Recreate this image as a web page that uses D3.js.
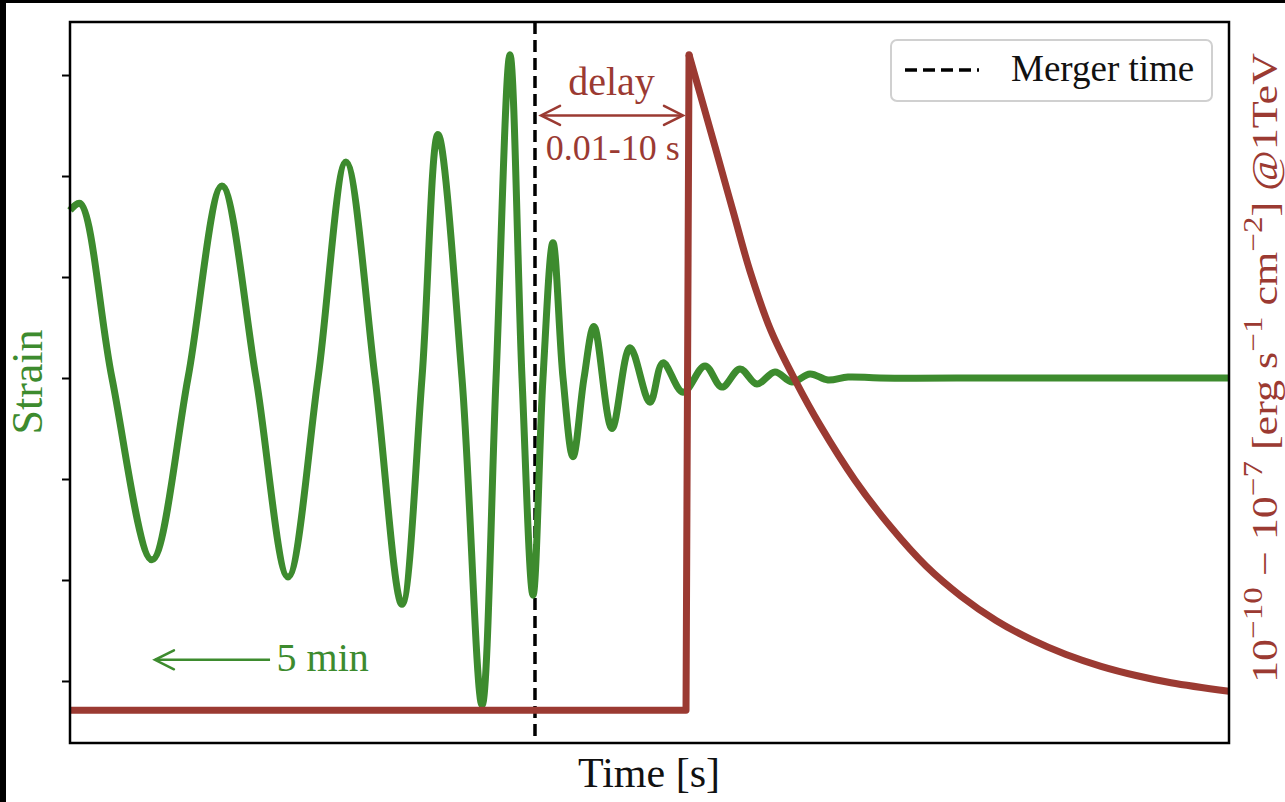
<!DOCTYPE html>
<html>
<head>
<meta charset="utf-8">
<script src="https://cdn.jsdelivr.net/npm/d3@7"></script>
<style>
  body { margin: 0; background: #fff; }
  text { font-family: "Liberation Serif", "DejaVu Serif", serif; }
</style>
</head>
<body>
<div id="chart"></div>
<script>
// gravitational wave strain (arbitrary units), time in s around merger
var strainTime = [-40.12, -39.26, -36.50, -33.05, -29.94, -27.01, -24.07, -21.31, -18.72, -16.31,
  -13.80, -11.48, -9.75, -8.37, -6.30, -4.57, -3.36, -2.16, -1.12, -0.17,
  0.69, 1.55, 2.42, 3.28, 4.23, 5.09, 6.64, 8.20, 9.92, 11.04,
  12.77, 14.67, 16.13, 17.69, 19.15, 20.71, 22.17, 23.73, 25.28, 27.01,
  29.77, 40.00, 50.00, 59.88];
var strainValue = [1.66, 1.73, 0, -1.80, 0, 1.90, 0, -1.97, 0, 2.14,
  0, -2.24, 0, 2.41, 0, -3.24, 0, 3.20, 0, -2.15,
  0, 1.34, 0, -0.78, 0, 0.51, -0.50, 0.30, -0.24, 0.15,
  -0.14, 0.12, -0.09, 0.09, -0.06, 0.06, -0.04, 0.04, -0.02, 0.01,
  0, 0, 0, 0];

// gamma-ray flux (normalised to peak)
var fluxTime = [-40.12, 13.03, 13.29, 15.53, 17.08, 18.55, 20.36, 22.52, 24.59, 27.61,
  30.72, 33.74, 36.76, 39.78, 42.80, 45.82, 48.84, 51.86, 54.87, 59.88];
var fluxValue = [0, 0, 1, 0.86, 0.762, 0.670, 0.579, 0.501, 0.435, 0.351,
  0.279, 0.220, 0.174, 0.137, 0.108, 0.085, 0.067, 0.053, 0.042, 0.029];

var strainTicks = [-3, -2, -1, 0, 1, 2, 3];
var mergerTime = 0;

var green = "#3d8b2e";
var red = "#9b3a32";

// svg vars
var svgWidth = 1285;
var svgHeight = 802;
var margin = { top: 22, right: 56, bottom: 59, left: 70 };
var width = svgWidth - margin.left - margin.right;
var height = svgHeight - margin.top - margin.bottom;

var svg = d3.select("#chart").append("svg")
  .attr("width", svgWidth)
  .attr("height", svgHeight);

// black frame of the screenshot
svg.append("rect").attr("x", 0).attr("y", 0).attr("width", svgWidth).attr("height", 3).attr("fill", "#000");
svg.append("rect").attr("x", 0).attr("y", 0).attr("width", 6).attr("height", svgHeight).attr("fill", "#000");

var chartGroup = svg.append("g")
  .attr("transform", `translate(${margin.left}, ${margin.top})`);

var xScale = d3.scaleLinear().domain([-40.12, 59.88]).range([0, width]);
var yScale = d3.scaleLinear().domain([-3.614, 3.525]).range([height, 0]);
var yFlux = d3.scaleLinear().domain([-0.05, 1.05]).range([height, 0]);

// left axis, ticks only
var leftAxis = d3.axisLeft(yScale)
  .tickValues(strainTicks)
  .tickFormat("")
  .tickSize(8)
  .tickSizeOuter(0);
var la = chartGroup.append("g").call(leftAxis);
la.select(".domain").remove();
la.selectAll(".tick line").attr("stroke", "#000").attr("stroke-width", 2);

// merger line
chartGroup.append("line")
  .attr("x1", xScale(mergerTime)).attr("x2", xScale(mergerTime))
  .attr("y1", 0).attr("y2", height)
  .attr("stroke", "#000")
  .attr("stroke-width", 3.5)
  .attr("stroke-dasharray", "12,6");

// strain line
var strainData = strainTime.map((t, i) => ({ t: t, v: strainValue[i] }));
var strainLine = d3.line()
  .x(d => xScale(d.t))
  .y(d => yScale(d.v))
  .curve(d3.curveCatmullRom.alpha(0.5));
chartGroup.append("path")
  .datum(strainData)
  .attr("d", strainLine)
  .attr("fill", "none")
  .attr("stroke", green)
  .attr("stroke-width", 7)
  .attr("stroke-linejoin", "round");

// flux line: step up drawn straight, decay smoothed
var fluxData = fluxTime.map((t, i) => ({ t: t, v: fluxValue[i] }));
var fluxStep = d3.line()
  .x(d => xScale(d.t))
  .y(d => yFlux(d.v));
var fluxDecay = d3.line()
  .x(d => xScale(d.t))
  .y(d => yFlux(d.v))
  .curve(d3.curveCatmullRom.alpha(0.5));
chartGroup.append("path")
  .datum(fluxData.slice(0, 3))
  .attr("d", fluxStep)
  .attr("fill", "none")
  .attr("stroke", red)
  .attr("stroke-width", 7)
  .attr("stroke-linejoin", "round");
chartGroup.append("path")
  .datum(fluxData.slice(2))
  .attr("d", fluxDecay)
  .attr("fill", "none")
  .attr("stroke", red)
  .attr("stroke-width", 7);
// round off the peak
chartGroup.append("circle")
  .attr("cx", xScale(fluxTime[2]))
  .attr("cy", yFlux(fluxValue[2]))
  .attr("r", 3.5)
  .attr("fill", red);

// frame
chartGroup.append("rect")
  .attr("width", width)
  .attr("height", height)
  .attr("fill", "none")
  .attr("stroke", "#000")
  .attr("stroke-width", 2.5);

// open arrow helper
function arrow(g, x1, x2, y, color, both) {
  g.append("line").attr("x1", x1).attr("x2", x2).attr("y1", y).attr("y2", y)
    .attr("stroke", color).attr("stroke-width", 2.5);
  var heads = both ? [[x1, 1], [x2, -1]] : [[x1, 1]];
  heads.forEach(function(h) {
    g.append("path")
      .attr("d", `M${h[0] + h[1] * 19},${y - 9.5}L${h[0]},${y}L${h[0] + h[1] * 19},${y + 9.5}`)
      .attr("fill", "none")
      .attr("stroke", color)
      .attr("stroke-width", 2.5)
      .attr("stroke-linecap", "round");
  });
}

// delay annotation
arrow(chartGroup, xScale(0.52), xScale(12.77), yScale(2.60), red, true);
chartGroup.append("text")
  .attr("x", xScale(6.6)).attr("y", yScale(2.80))
  .attr("text-anchor", "middle")
  .attr("font-size", "40px")
  .attr("fill", red)
  .text("delay");
chartGroup.append("text")
  .attr("x", xScale(6.7)).attr("y", yScale(2.16))
  .attr("text-anchor", "middle")
  .attr("font-size", "36px")
  .attr("fill", red)
  .text("0.01-10 s");

// 5 min annotation
arrow(chartGroup, xScale(-32.79), xScale(-22.86), yScale(-2.79), green, false);
chartGroup.append("text")
  .attr("x", xScale(-22.3)).attr("y", yScale(-2.90))
  .attr("font-size", "40px")
  .attr("fill", green)
  .text("5 min");

// legend
var legend = chartGroup.append("g").attr("transform", "translate(821, 18)");
legend.append("rect")
  .attr("width", 321).attr("height", 61).attr("rx", 6)
  .attr("fill", "#fff").attr("fill-opacity", 0.8)
  .attr("stroke", "#d0d0d0").attr("stroke-width", 2);
legend.append("line")
  .attr("x1", 14).attr("x2", 88).attr("y1", 30).attr("y2", 30)
  .attr("stroke", "#000").attr("stroke-width", 3.5)
  .attr("stroke-dasharray", "12,6");
legend.append("text")
  .attr("x", 120).attr("y", 41)
  .attr("font-size", "37px")
  .attr("fill", "#111")
  .text("Merger time");

// axis labels
svg.append("text")
  .attr("x", 649).attr("y", 787)
  .attr("text-anchor", "middle")
  .attr("font-size", "42px")
  .attr("fill", "#111")
  .text("Time [s]");

svg.append("text")
  .attr("transform", "translate(42, 382) rotate(-90)")
  .attr("text-anchor", "middle")
  .attr("font-size", "44px")
  .attr("fill", green)
  .text("Strain");

var rl = svg.append("text")
  .attr("transform", "translate(1277, 368) rotate(-90)")
  .attr("text-anchor", "middle")
  .attr("font-size", "36px")
  .attr("textLength", 630)
  .attr("lengthAdjust", "spacingAndGlyphs")
  .attr("fill", red);
var parts = [["10", 0], ["\u221210", 1], [" \u2212 10", 0], ["\u22127", 1], [" [erg s", 0], ["\u22121", 1],
  [" cm", 0], ["\u22122", 1], ["] @1TeV", 0]];
parts.forEach(function(p, i) {
  var ts = rl.append("tspan").text(p[0]);
  if (p[1]) ts.attr("font-size", "27px").attr("dy", -15);
  else if (i > 0) ts.attr("dy", 15);
});
</script>
</body>
</html>
